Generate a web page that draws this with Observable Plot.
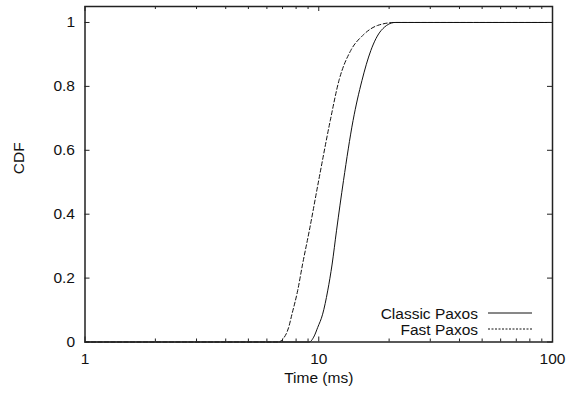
<!DOCTYPE html>
<html>
<head>
<meta charset="utf-8">
<script src="https://cdn.jsdelivr.net/npm/d3@7"></script>
<script src="https://cdn.jsdelivr.net/npm/@observablehq/plot@0.6"></script>
<style>
  body { margin: 0; background: #fff; }
  svg { display: block; }
</style>
</head>
<body>
<div id="chart"></div>
<script>
// Latency CDFs (time in ms, cumulative fraction)
const classicTime = [1, 9.1, 9.57, 9.89, 10.39, 10.92, 11.41, 11.91, 12.76, 14.02, 15.3, 16.7, 18.5, 21.2, 100];
const classicCdf  = [0, 0, 0.019, 0.045, 0.087, 0.16, 0.244, 0.348, 0.505, 0.693, 0.818, 0.912, 0.975, 1, 1];
const fastTime = [1, 6.73, 7.0, 7.43, 7.68, 8.12, 8.53, 9.11, 9.99, 11.2, 12.2, 13.7, 15.4, 17.9, 21.2, 100];
const fastCdf  = [0, 0, 0.008, 0.045, 0.087, 0.16, 0.244, 0.348, 0.505, 0.693, 0.818, 0.912, 0.959, 0.991, 1, 1];

const seriesNames = ["Classic Paxos", "Fast Paxos"];
const xMajor = [1, 10, 100];
const xMinor = [2, 3, 4, 5, 6, 7, 8, 9, 20, 30, 40, 50, 60, 70, 80, 90];
const yTicks = [0, 0.2, 0.4, 0.6, 0.8, 1];

const classic = classicTime.map((t, i) => ({t, p: classicCdf[i]}));
const fast = fastTime.map((t, i) => ({t, p: fastCdf[i]}));

const W = 568, H = 395;
const mTop = 6, mRight = 16, mBottom = 53.5, mLeft = 84.5;
const innerW = W - mLeft - mRight, innerH = H - mTop - mBottom;
const ink = "#111";
const frameInk = "#222";
const dash = "4,2.5";

// inward tick helpers: a tick spanning the frame, inset to a short stub
const major = 5, minor = 3;
const ticksX = (vals, len) => [
  Plot.tickX(vals, {x: d => d, stroke: frameInk, strokeWidth: 1, insetTop: innerH - len}),
  Plot.tickX(vals, {x: d => d, stroke: frameInk, strokeWidth: 1, insetBottom: innerH - len})
];
const ticksY = (vals, len) => [
  Plot.tickY(vals, {y: d => d, stroke: frameInk, strokeWidth: 1, insetRight: innerW - len}),
  Plot.tickY(vals, {y: d => d, stroke: frameInk, strokeWidth: 1, insetLeft: innerW - len})
];

// legend in the lower-right corner of the frame
function legend(index, scales, values, dims) {
  const g = d3.create("svg:g");
  const right = dims.width - dims.marginRight;
  const bottom = dims.height - dims.marginBottom;
  const rows = [
    {name: seriesNames[0], dasharray: null, base: bottom - 23},
    {name: seriesNames[1], dasharray: "2,1.5", base: bottom - 7}
  ];
  for (const r of rows) {
    g.append("text")
      .attr("x", right - 74).attr("y", r.base)
      .attr("text-anchor", "end")
      .attr("fill", ink)
      .text(r.name);
    g.append("line")
      .attr("x1", right - 64).attr("x2", right - 20)
      .attr("y1", r.base - 5.5).attr("y2", r.base - 5.5)
      .attr("stroke", ink).attr("stroke-width", 1)
      .attr("stroke-dasharray", r.dasharray);
  }
  return g.node();
}

const chart = Plot.plot({
  width: W,
  height: H,
  marginTop: mTop,
  marginRight: mRight,
  marginBottom: mBottom,
  marginLeft: mLeft,
  style: {fontFamily: "'Liberation Sans', Arial, Helvetica, sans-serif", fontSize: "15.5px", color: ink, background: "#fff"},
  x: {type: "log", domain: [1, 100], axis: null},
  y: {domain: [0, 1.05], axis: null},
  marks: [
    Plot.line(classic, {x: "t", y: "p", stroke: ink, strokeWidth: 1, curve: "monotone-x"}),
    Plot.line(fast, {x: "t", y: "p", stroke: ink, strokeWidth: 1, strokeDasharray: dash, curve: "monotone-x"}),
    ...ticksX(xMajor, major),
    ...ticksX(xMinor, minor),
    ...ticksY(yTicks, major),
    Plot.axisX(xMajor, {tickSize: 0, tickPadding: 10.5, tickFormat: d => String(d), label: null, fill: ink}),
    Plot.axisY(yTicks, {tickSize: 0, tickPadding: 10, tickFormat: d => String(d), label: null, fill: ink}),
    Plot.text(["Time (ms)"], {frameAnchor: "bottom", dy: 41, text: d => d, fill: ink, fontSize: "15.5px"}),
    Plot.text(["CDF"], {frameAnchor: "left", dx: -65.5, rotate: -90, text: d => d, fill: ink, fontSize: "15.5px"}),
    Plot.frame({stroke: frameInk, strokeWidth: 1.5}),
    legend
  ]
});

document.getElementById("chart").appendChild(chart);
</script>
</body>
</html>
